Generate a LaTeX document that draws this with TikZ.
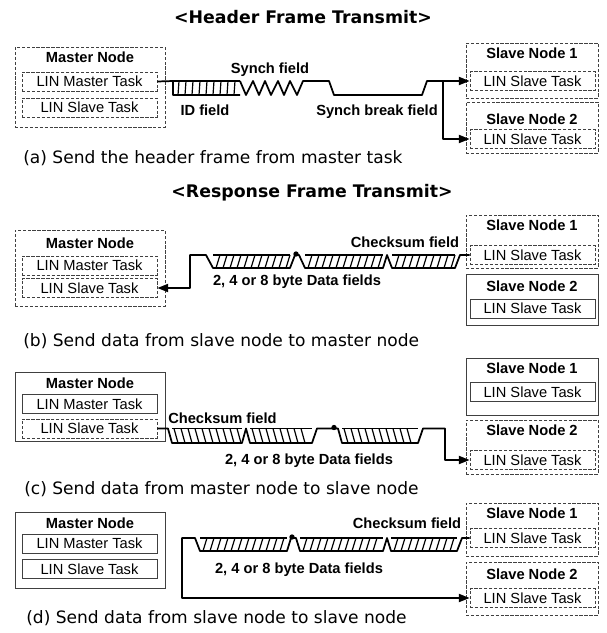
\documentclass[tikz,border=0pt]{standalone}
\usepackage{fontspec}
\setmainfont{Liberation Sans}
\newfontfamily\capfont{DejaVu Sans}
\usepackage{tikz}
\usetikzlibrary{arrows.meta}
\newlength\px
\setlength\px{0.75pt}

\begin{document}
\begin{tikzpicture}[x=0.75pt, y=-0.75pt,
    outer/.style={draw=black!75, line width=0.6pt, minimum width=150\px, inner sep=0pt},
    slv/.style={outer, minimum width=132\px},
    task/.style={draw=black!75, line width=0.6pt, minimum width=135\px, minimum height=19\px,
                 inner sep=0pt, font=\fontsize{11}{13}\selectfont},
    stask/.style={task, minimum width=125\px},
    act/.style={dash pattern=on 2.5pt off 1.2pt},
    lbl/.style={font=\fontsize{11}{13}\selectfont\bfseries, inner sep=0pt},
    ttl/.style={font=\capfont\fontsize{13}{15}\selectfont\bfseries, inner sep=0pt},
    capt/.style={font=\capfont\fontsize{12.8}{15}\selectfont, anchor=west, inner sep=0pt},
    sig/.style={line width=1.3pt, line join=round},
    hatch/.style={line width=0.9pt},
    arr/.style={sig, -{Triangle[length=8pt,width=6pt]}}
]
\useasboundingbox (0,0) rectangle (607,633);

\node[ttl] (t1) at (303,17) {<Header Frame Transmit>};
\node[ttl] (t2) at (312,193) {<Response Frame Transmit>};

% (a) header frame
\node[outer, act, minimum height=80\px] (ma) at (90,87) {};
\node[lbl] (mal) at (90,57) {Master Node};
\node[task, act] (mat) at (89.5,81.5) {LIN Master Task};
\node[task, act] (mas) at (89.5,107.5) {LIN Slave Task};
\node[slv, act, minimum height=55\px] (s1a) at (532,70.5) {};
\node[lbl] (s1al) at (532,53) {Slave Node 1};
\node[stask, act] (s1at) at (532.5,81) {LIN Slave Task};
\node[slv, act, minimum height=51\px] (s2a) at (532,127.5) {};
\node[lbl] (s2al) at (532,119) {Slave Node 2};
\node[stask, act] (s2at) at (532.5,139) {LIN Slave Task};

\draw[sig] (mat.east) -- (173,81) -- (173,95) -- (240,95);
\draw[sig] (173,81) -- (240,81);
\foreach \x in {178,185,...,234} \draw[hatch] (\x,95) -- ++(1,-14);
\draw[sig] (240,81) -- (246,95) -- (253,81) -- (259,95) -- (265,81) -- (271,95) -- (278,81)
  -- (284,95) -- (290,81) -- (297,95) -- (303,81) -- (329,81) -- (334,95) -- (422,95)
  -- (427,81) -- (443,81) coordinate (ja);
\draw[arr] (ja) -- (s1at.west);
\draw[arr] (ja) |- (s2at.west);
\node[lbl] (fa1) at (270,70) {Synch field};
\node[lbl] (fa2) at (205,110) {ID field};
\node[lbl, anchor=east] (fa3) at (438,112) {Synch break field};
\node[capt] (ca) at (23,158) {(a) Send the header frame from master task};

% (b) slave -> master
\node[outer, act, minimum height=76\px] (mb) at (90,268) {};
\node[lbl] (mbl) at (90,243) {Master Node};
\node[task, act] (mbt) at (89.5,265.5) {LIN Master Task};
\node[task, act] (mbs) at (89.5,288) {LIN Slave Task};
\node[slv, act, minimum height=53\px] (s1b) at (532,241.5) {};
\node[lbl] (s1bl) at (532,225) {Slave Node 1};
\node[stask, act] (s1bt) at (532.5,255) {LIN Slave Task};
\node[slv, minimum height=51\px] (s2b) at (532,299.5) {};
\node[lbl] (s2bl) at (532,286) {Slave Node 2};
\node[stask] (s2bt) at (532.5,308.5) {LIN Slave Task};

\draw[arr] (s1bt.west) -- (460,255) -- (455,268) -- (392,268) -- (387,255) -- (383,268)
  -- (305,268) -- (299,255) -- (295,255) -- (290,268) -- (213,268) -- (206,255)
  -- (190,255) -- (190,288) -- (mbs.east);
\draw[sig] (213,255) -- (290,255) (305,255) -- (383,255) (392,255) -- (455,255);
\foreach \x in {216,223,...,286} \draw[hatch] (\x,268) -- ++(4,-13);
\foreach \x in {308,315,...,378} \draw[hatch] (\x,268) -- ++(4,-13);
\foreach \x in {395,402,...,451} \draw[hatch] (\x,268) -- ++(4,-13);
\fill (296,254) circle (2pt);
\node[lbl] (fb1) at (405,242) {Checksum field};
\node[lbl] (fb2) at (297,282) {2, 4 or 8 byte Data fields};
\node[capt] (cb) at (23,341) {(b) Send data from slave node to master node};

% (c) master -> slave
\node[outer, minimum height=69\px] (mc) at (90,406.5) {};
\node[lbl] (mcl) at (90,383) {Master Node};
\node[task] (mct) at (89.5,404) {LIN Master Task};
\node[task, act] (mcs) at (89.5,428.5) {LIN Slave Task};
\node[slv, minimum height=57\px] (s1c) at (532,386.5) {};
\node[lbl] (s1cl) at (532,368) {Slave Node 1};
\node[stask] (s1ct) at (532.5,392) {LIN Slave Task};
\node[slv, act, minimum height=54\px] (s2c) at (532,447) {};
\node[lbl] (s2cl) at (532,430) {Slave Node 2};
\node[stask, act] (s2ct) at (532.5,460) {LIN Slave Task};

\draw[arr] (mcs.east) -- (168,428.5) -- (172,443) -- (242,443) -- (246,428.5) -- (250,443)
  -- (312,443) -- (317,428.5) -- (338,428.5) -- (342,443) -- (418,443) -- (423,428.5)
  -- (445,428.5) |- (s2ct.west);
\draw[sig] (172,428.5) -- (242,428.5) (250,428.5) -- (312,428.5) (342,428.5) -- (418,428.5);
\foreach \x in {174,181,...,237} \draw[hatch] (\x,428.5) -- ++(4,14.5);
\foreach \x in {252,259,...,306} \draw[hatch] (\x,428.5) -- ++(4,14.5);
\foreach \x in {344,351,...,412} \draw[hatch] (\x,428.5) -- ++(4,14.5);
\fill (334,427.5) circle (2pt);
\node[lbl, anchor=west] (fc1) at (168,418) {Checksum field};
\node[lbl] (fc2) at (309,461) {2, 4 or 8 byte Data fields};
\node[capt] (cc) at (24,489) {(c) Send data from master node to slave node};

% (d) slave -> slave
\node[outer, minimum height=76\px] (md) at (90,550) {};
\node[lbl] (mdl) at (90,523) {Master Node};
\node[task] (mdt) at (89.5,543.5) {LIN Master Task};
\node[task] (mds) at (89.5,569) {LIN Slave Task};
\node[slv, act, minimum height=53\px] (s1d) at (532,529.5) {};
\node[lbl] (s1dl) at (532,513) {Slave Node 1};
\node[stask, act] (s1dt) at (532.5,538) {LIN Slave Task};
\node[slv, act, minimum height=53\px] (s2d) at (532,588.5) {};
\node[lbl] (s2dl) at (532,574) {Slave Node 2};
\node[stask, act] (s2dt) at (532.5,598) {LIN Slave Task};

\draw[arr] (s1dt.west) -- (462,538) -- (457,551) -- (391,551) -- (387,538) -- (383,551)
  -- (300,551) -- (296,538) -- (291,538) -- (287,551) -- (200,551) -- (195,538)
  -- (182,538) |- (s2dt.west);
\draw[sig] (200,538) -- (287,538) (300,538) -- (383,538) (391,538) -- (457,538);
\foreach \x in {203,210,...,282} \draw[hatch] (\x,551) -- ++(4,-13);
\foreach \x in {303,310,...,378} \draw[hatch] (\x,551) -- ++(4,-13);
\foreach \x in {394,401,...,452} \draw[hatch] (\x,551) -- ++(4,-13);
\fill (292,537) circle (2pt);
\node[lbl] (fd1) at (407,523) {Checksum field};
\node[lbl] (fd2) at (299,570) {2, 4 or 8 byte Data fields};
\node[capt] (cd) at (26,618) {(d) Send data from slave node to slave node};
\end{tikzpicture}
\end{document}
